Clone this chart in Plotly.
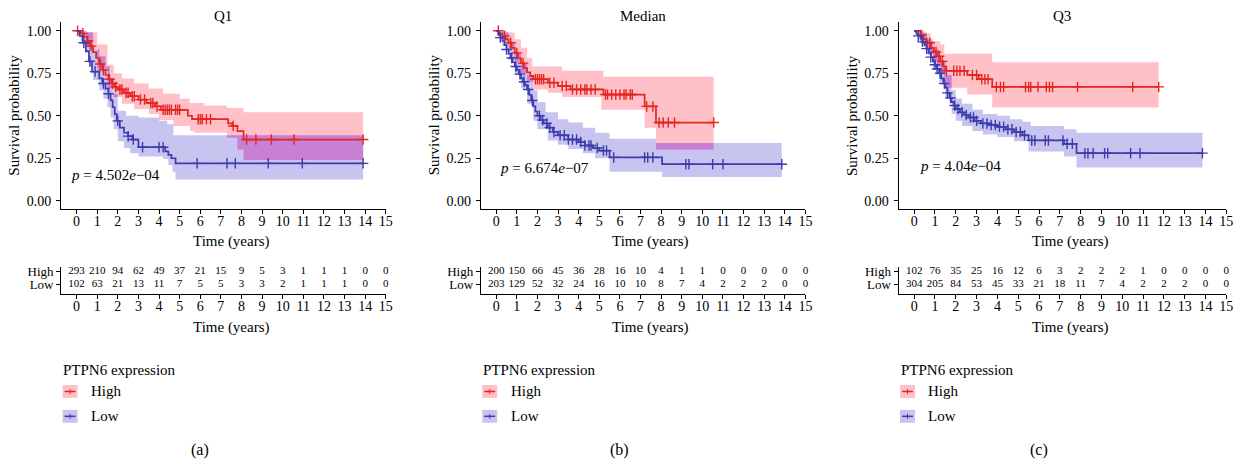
import numpy as np
import plotly.graph_objects as go

W, H = 1252, 466
FONT = "Liberation Serif"

# ---------------------------------------------------------------- data
years = list(range(16))
surv_ticks = [0, 0.25, 0.5, 0.75, 1.0]
surv_ticklabels = ["0.00", "0.25", "0.50", "0.75", "1.00"]
group_labels = ["High", "Low"]
panel_titles = ["Q1", "Median", "Q3"]
panel_tags = ["(a)", "(b)", "(c)"]
p_values = ["4.502e\u221204", "6.674e\u221207", "4.04e\u221204"]

# ---- Q1 cut-off
q1_high_time = [0, 0.2, 0.35, 0.5, 0.65, 0.8, 0.95, 1.1, 1.25, 1.4, 1.55, 1.7, 1.85, 2.0, 2.3, 2.6,
                3.0, 3.4, 3.8, 4.1, 5.4, 5.6, 7.35, 7.55, 7.8, 8.1]
q1_high_surv = [1.0, 0.985, 0.965, 0.94, 0.91, 0.875, 0.84, 0.805, 0.77, 0.74, 0.715, 0.69, 0.67, 0.655,
                0.635, 0.615, 0.595, 0.575, 0.555, 0.535, 0.50, 0.48, 0.455, 0.44, 0.41, 0.36]
q1_high_end = 13.9
q1_high_up_time = [0, 0.5, 1.0, 1.5, 1.8, 2.2, 2.8, 3.5, 4.2, 5.0, 5.5, 6.2, 7.3, 8.1]
q1_high_up = [1.0, 0.99, 0.92, 0.80, 0.75, 0.72, 0.69, 0.66, 0.63, 0.60, 0.575, 0.56, 0.545, 0.52]
q1_high_lo_time = [0, 0.3, 0.6, 1.0, 1.5, 1.8, 2.2, 2.8, 3.5, 4.0, 4.7, 5.5, 5.7, 7.3, 7.8, 8.1]
q1_high_lo = [1.0, 0.96, 0.89, 0.78, 0.66, 0.61, 0.57, 0.54, 0.51, 0.475, 0.44, 0.41, 0.40, 0.37, 0.30, 0.24]
q1_high_censor = [0.05, 0.3, 0.55, 0.7, 1.15, 1.3, 1.6, 1.75, 1.9, 2.1, 2.2, 2.4, 2.5, 2.7, 2.8, 3.1,
                  3.3, 3.6, 3.7, 3.9, 4.2, 4.3, 4.4, 4.5, 4.6, 4.8, 4.9, 5.0, 5.9, 6.0, 6.1, 6.3, 6.5,
                  7.6, 8.25, 8.7, 9.45, 10.55, 13.9]

q1_low_time = [0, 0.15, 0.3, 0.45, 0.6, 0.75, 1.1, 1.25, 1.4, 1.55, 1.65, 1.75, 1.85, 1.95, 2.1, 2.3,
               2.5, 2.7, 3.0, 4.3, 4.45, 4.6, 4.8]
q1_low_surv = [1.0, 0.97, 0.93, 0.88, 0.82, 0.76, 0.72, 0.69, 0.66, 0.63, 0.59, 0.55, 0.51, 0.47, 0.43,
               0.40, 0.38, 0.36, 0.315, 0.29, 0.27, 0.25, 0.22]
q1_low_end = 13.9
q1_low_up_time = [0, 0.4, 0.8, 1.1, 1.4, 1.6, 1.8, 2.0, 2.4, 3.0, 4.0, 4.4, 4.7]
q1_low_up = [1.0, 0.99, 0.89, 0.85, 0.79, 0.72, 0.63, 0.53, 0.50, 0.49, 0.47, 0.45, 0.385]
q1_low_lo_time = [0, 0.2, 0.4, 0.6, 0.8, 1.1, 1.3, 1.5, 1.65, 1.8, 2.0, 2.3, 2.6, 3.0, 4.2, 4.45, 4.65, 4.8]
q1_low_lo = [1.0, 0.94, 0.87, 0.79, 0.71, 0.65, 0.60, 0.55, 0.49, 0.42, 0.35, 0.31, 0.28, 0.26, 0.245,
             0.21, 0.17, 0.125]
q1_low_censor = [0.35, 0.65, 0.9, 1.3, 1.55, 2.0, 2.5, 2.75, 3.2, 4.0, 4.2, 5.85, 7.3, 7.7, 9.3, 10.95, 13.9]

q1_risk_high = [293, 210, 94, 62, 49, 37, 21, 15, 9, 5, 3, 1, 1, 1, 0, 0]
q1_risk_low = [102, 63, 21, 13, 11, 7, 5, 5, 3, 3, 2, 1, 1, 1, 0, 0]

# ---- median cut-off
med_high_time = [0, 0.15, 0.3, 0.45, 0.6, 0.75, 0.9, 1.05, 1.2, 1.35, 1.5, 1.65, 1.8, 2.5, 3.0, 3.6,
                 5.2, 7.2, 7.75]
med_high_surv = [1.0, 0.985, 0.97, 0.95, 0.93, 0.90, 0.87, 0.84, 0.81, 0.78, 0.755, 0.735, 0.715, 0.695,
                 0.675, 0.655, 0.625, 0.555, 0.46]
med_high_end = 10.55
med_high_up_time = [0, 0.5, 0.9, 1.2, 1.5, 1.75, 3.2, 5.2]
med_high_up = [1.0, 0.99, 0.95, 0.90, 0.84, 0.79, 0.765, 0.73]
med_high_lo_time = [0, 0.3, 0.6, 0.9, 1.2, 1.5, 1.8, 2.5, 3.2, 5.1, 7.2, 7.75]
med_high_lo = [1.0, 0.95, 0.89, 0.82, 0.75, 0.70, 0.655, 0.635, 0.61, 0.535, 0.43, 0.30]
med_high_censor = [0.1, 0.4, 0.7, 1.0, 1.3, 1.9, 2.0, 2.1, 2.2, 2.3, 2.6, 2.8, 3.2, 3.4, 3.7, 3.9, 4.1,
                   4.3, 4.4, 4.6, 4.8, 5.3, 5.4, 5.6, 5.8, 6.0, 6.2, 6.3, 6.5, 6.6, 7.3, 7.6, 7.9, 8.1,
                   8.35, 8.65, 10.55]

med_low_time = [0, 0.1, 0.2, 0.3, 0.4, 0.5, 0.6, 0.7, 0.8, 0.9, 1.0, 1.1, 1.2, 1.3, 1.4, 1.5, 1.6, 1.7,
                1.8, 1.9, 2.0, 2.15, 2.3, 2.5, 2.75, 3.0, 3.5, 4.0, 4.3, 4.7, 5.0, 5.5, 8.05]
med_low_surv = [1.0, 0.98, 0.96, 0.94, 0.915, 0.89, 0.865, 0.84, 0.815, 0.79, 0.77, 0.745, 0.72, 0.70,
                0.68, 0.655, 0.625, 0.59, 0.555, 0.525, 0.50, 0.475, 0.455, 0.43, 0.405, 0.385, 0.36,
                0.345, 0.325, 0.31, 0.295, 0.255, 0.215]
med_low_end = 13.85
med_low_up_time = [0, 0.3, 0.6, 0.9, 1.2, 1.5, 1.8, 2.0, 2.4, 3.0, 3.5, 4.2, 4.8, 5.5, 7.75]
med_low_up = [1.0, 0.99, 0.93, 0.87, 0.81, 0.74, 0.65, 0.58, 0.52, 0.48, 0.46, 0.43, 0.40, 0.365, 0.34]
med_low_lo_time = [0, 0.3, 0.6, 0.9, 1.2, 1.5, 1.8, 2.0, 2.5, 3.0, 3.5, 4.2, 4.8, 5.5, 8.05]
med_low_lo = [1.0, 0.91, 0.83, 0.74, 0.66, 0.57, 0.47, 0.42, 0.355, 0.33, 0.305, 0.28, 0.25, 0.17, 0.14]
med_low_censor = [0.2, 0.5, 0.75, 0.95, 1.15, 1.35, 1.55, 1.75, 2.1, 2.25, 2.45, 2.6, 2.8, 3.1, 3.3,
                  3.5, 3.7, 3.9, 4.1, 4.3, 4.5, 4.6, 4.9, 5.2, 5.35, 5.7, 7.2, 7.35, 7.6, 9.2, 9.35,
                  10.5, 11.0, 13.85]

med_risk_high = [200, 150, 66, 45, 36, 28, 16, 10, 4, 1, 1, 0, 0, 0, 0, 0]
med_risk_low = [203, 129, 52, 32, 24, 16, 10, 10, 8, 7, 4, 2, 2, 2, 0, 0]

# ---- Q3 cut-off
q3_high_time = [0, 0.3, 0.45, 0.6, 0.8, 0.95, 1.1, 1.25, 1.4, 1.5, 2.55, 3.1, 3.75]
q3_high_surv = [1.0, 0.975, 0.95, 0.93, 0.90, 0.875, 0.85, 0.82, 0.79, 0.765, 0.74, 0.715, 0.67]
q3_high_end = 11.75
q3_high_up_time = [0, 0.5, 0.8, 1.25, 1.45, 3.75]
q3_high_up = [1.0, 0.985, 0.94, 0.92, 0.865, 0.815]
q3_high_lo_time = [0, 0.3, 0.5, 0.7, 0.9, 1.1, 1.3, 1.45, 2.55, 3.75]
q3_high_lo = [1.0, 0.94, 0.90, 0.86, 0.82, 0.79, 0.745, 0.665, 0.625, 0.548]
q3_high_censor = [0.35, 0.6, 0.75, 1.05, 1.2, 1.35, 1.55, 1.9, 2.05, 2.2, 2.4, 2.8, 3.0, 3.25, 3.4,
                  3.55, 3.95, 4.15, 4.3, 5.35, 5.5, 5.6, 5.95, 6.35, 6.5, 6.65, 7.85, 10.5, 11.75]

q3_low_time = [0, 0.1, 0.2, 0.3, 0.4, 0.5, 0.6, 0.7, 0.8, 0.9, 1.0, 1.1, 1.2, 1.3, 1.4, 1.5, 1.6, 1.7,
               1.8, 1.9, 2.0, 2.2, 2.4, 2.6, 2.9, 3.2, 3.6, 4.0, 4.4, 4.8, 5.2, 5.5, 7.2, 7.8]
q3_low_surv = [1.0, 0.985, 0.97, 0.955, 0.935, 0.915, 0.895, 0.87, 0.845, 0.82, 0.80, 0.775, 0.75, 0.72,
               0.69, 0.665, 0.635, 0.605, 0.58, 0.56, 0.54, 0.52, 0.505, 0.49, 0.47, 0.455, 0.445,
               0.435, 0.42, 0.405, 0.385, 0.355, 0.335, 0.28]
q3_low_end = 13.85
q3_low_up_time = [0, 0.3, 0.6, 0.9, 1.2, 1.5, 1.8, 2.0, 2.3, 2.8, 3.3, 4.0, 4.6, 5.2, 5.6, 7.2, 7.8]
q3_low_up = [1.0, 0.99, 0.95, 0.89, 0.82, 0.74, 0.65, 0.60, 0.57, 0.535, 0.51, 0.50, 0.48, 0.465, 0.44,
             0.42, 0.40]
q3_low_lo_time = [0, 0.3, 0.6, 0.9, 1.2, 1.5, 1.8, 2.0, 2.3, 2.8, 3.3, 4.0, 4.8, 5.5, 7.2, 7.8]
q3_low_lo = [1.0, 0.93, 0.86, 0.78, 0.70, 0.61, 0.51, 0.47, 0.44, 0.41, 0.39, 0.375, 0.35, 0.29, 0.26,
             0.195]
q3_low_censor = [0.2, 0.4, 0.6, 0.8, 1.0, 1.1, 1.25, 1.45, 1.6, 1.75, 1.95, 2.1, 2.3, 2.5, 2.7, 2.85,
                 3.0, 3.3, 3.5, 3.7, 3.9, 4.1, 4.3, 4.5, 4.7, 4.9, 5.1, 5.3, 5.65, 5.8, 6.3, 6.45,
                 7.15, 7.35, 7.6, 8.2, 8.35, 8.6, 9.15, 9.3, 10.4, 10.85, 13.85]

q3_risk_high = [102, 76, 35, 25, 16, 12, 6, 3, 2, 2, 2, 1, 0, 0, 0, 0]
q3_risk_low = [304, 205, 84, 53, 45, 33, 21, 18, 11, 7, 4, 2, 2, 2, 0, 0]

# ---------------------------------------------------------------- styling
RED, BLUE = "rgb(228,38,32)", "rgb(60,60,172)"
PINK, LAVENDER, PURPLE = "rgb(255,192,200)", "rgb(200,196,240)", "rgb(200,128,212)"

panels = [
    dict(high=(q1_high_time, q1_high_surv, q1_high_end, q1_high_up_time, q1_high_up,
               q1_high_lo_time, q1_high_lo, q1_high_censor),
         low=(q1_low_time, q1_low_surv, q1_low_end, q1_low_up_time, q1_low_up,
              q1_low_lo_time, q1_low_lo, q1_low_censor),
         risk=(q1_risk_high, q1_risk_low), zero=77.0, ppy=20.73, pxy=(-0.39, 0.15)),
    dict(high=(med_high_time, med_high_surv, med_high_end, med_high_up_time, med_high_up,
               med_high_lo_time, med_high_lo, med_high_censor),
         low=(med_low_time, med_low_surv, med_low_end, med_low_up_time, med_low_up,
              med_low_lo_time, med_low_lo, med_low_censor),
         risk=(med_risk_high, med_risk_low), zero=499.0, ppy=20.73, pxy=(0.1, 0.195)),
    dict(high=(q3_high_time, q3_high_surv, q3_high_end, q3_high_up_time, q3_high_up,
               q3_high_lo_time, q3_high_lo, q3_high_censor),
         low=(q3_low_time, q3_low_surv, q3_low_end, q3_low_up_time, q3_low_up,
              q3_low_lo_time, q3_low_lo, q3_low_censor),
         risk=(q3_risk_high, q3_risk_low), zero=919.3, ppy=20.93, pxy=(0.19, 0.205)),
]

X_MIN, X_MAX = -0.75, 15.0


def px(x):
    return x / W


def py(y):
    return 1 - y / H


def step_at(times, values, x):
    idx = np.searchsorted(np.asarray(times), np.asarray(x), side="right") - 1
    return np.asarray(values)[idx]


def band(up_t, up, lo_t, lo, end):
    grid = np.unique(np.concatenate([up_t, lo_t]))
    grid = np.append(grid[grid < end], end)
    return grid, step_at(lo_t, lo, grid), step_at(up_t, up, grid)


def note(text, x, y, xref="paper", yref="paper", xanchor="center", size=15, **kw):
    return dict(text=text, x=x, y=y, xref=xref, yref=yref, xanchor=xanchor, yanchor="middle",
                showarrow=False, font=dict(family=FONT, size=size, color="black"), **kw)


fig = go.Figure()
layout = {}
annotations = []
shapes = []
tick_font = dict(family=FONT, size=14, color="black")

for i, p in enumerate(panels):
    n = i + 1
    r = i + 4
    xm, ym = f"x{n}", f"y{n}"
    xr, yr = f"x{r}", f"y{r}"
    left = p["zero"] + X_MIN * p["ppy"]
    right = p["zero"] + X_MAX * p["ppy"]
    dom = [px(left), px(right)]

    ends = {}
    for key, fill in (("high", PINK), ("low", LAVENDER)):
        t, s, end, ut, u, lt, l, cens = p[key]
        g, blo, bup = band(ut, u, lt, l, end)
        ends[key] = end
        fig.add_trace(go.Scatter(x=g, y=blo, mode="lines", line=dict(width=0, shape="hv"),
                                 xaxis=xm, yaxis=ym, showlegend=False, hoverinfo="skip"))
        fig.add_trace(go.Scatter(x=g, y=bup, mode="lines", line=dict(width=0, shape="hv"),
                                 fill="tonexty", fillcolor=fill, xaxis=xm, yaxis=ym,
                                 showlegend=False, hoverinfo="skip"))

    # where the two confidence bands overlap
    end_common = min(ends["high"], ends["low"])
    hi_p, lo_p = p["high"], p["low"]
    grid = np.unique(np.concatenate([hi_p[3], hi_p[5], lo_p[3], lo_p[5]]))
    grid = np.append(grid[grid < end_common], end_common)
    ov_lo = np.maximum(step_at(hi_p[5], hi_p[6], grid), step_at(lo_p[5], lo_p[6], grid))
    ov_up = np.minimum(step_at(hi_p[3], hi_p[4], grid), step_at(lo_p[3], lo_p[4], grid))
    ov_up = np.maximum(ov_up, ov_lo)
    fig.add_trace(go.Scatter(x=grid, y=ov_lo, mode="lines", line=dict(width=0, shape="hv"),
                             xaxis=xm, yaxis=ym, showlegend=False, hoverinfo="skip"))
    fig.add_trace(go.Scatter(x=grid, y=ov_up, mode="lines", line=dict(width=0, shape="hv"),
                             fill="tonexty", fillcolor=PURPLE, xaxis=xm, yaxis=ym,
                             showlegend=False, hoverinfo="skip"))

    for key, col in (("high", RED), ("low", BLUE)):
        t, s, end, ut, u, lt, l, cens = p[key]
        xs = list(t) + [end]
        ys = list(s) + [s[-1]]
        fig.add_trace(go.Scatter(x=xs, y=ys, mode="lines", line=dict(color=col, width=1.7, shape="hv"),
                                 xaxis=xm, yaxis=ym, showlegend=False, hoverinfo="skip"))
        fig.add_trace(go.Scatter(x=cens, y=step_at(t, s, cens), mode="markers",
                                 marker=dict(symbol="cross-thin", size=7.5,
                                             line=dict(color=col, width=1.4)),
                                 xaxis=xm, yaxis=ym, showlegend=False, hoverinfo="skip",
                                 cliponaxis=False))

    # risk table
    for row, counts in zip((2, 1), p["risk"]):
        fig.add_trace(go.Scatter(x=years, y=[row] * len(years), mode="text",
                                 text=[str(c) for c in counts],
                                 textfont=dict(family=FONT, size=11, color="black"),
                                 xaxis=xr, yaxis=yr, showlegend=False, hoverinfo="skip",
                                 cliponaxis=False))

    axis_common = dict(showline=True, linecolor="black", linewidth=1, ticks="outside",
                       ticklen=4, tickwidth=1, tickcolor="black", showgrid=False,
                       zeroline=False, tickfont=tick_font, fixedrange=True)
    layout[f"xaxis{n if n > 1 else ''}"] = dict(axis_common, domain=dom, range=[X_MIN, X_MAX],
                                                  anchor=ym, tickvals=years, ticklabelstandoff=-5)
    layout[f"yaxis{n if n > 1 else ''}"] = dict(axis_common, domain=[py(207.55), py(19.45)],
                                                  range=[-0.05, 1.05], anchor=xm,
                                                  tickvals=surv_ticks, ticktext=surv_ticklabels,
                                                  ticklabelstandoff=2)
    layout[f"xaxis{r}"] = dict(axis_common, domain=dom, range=[X_MIN, X_MAX], anchor=yr,
                               tickvals=years, ticklabelstandoff=-5)
    layout[f"yaxis{r}"] = dict(axis_common, domain=[py(293), py(266)], range=[0.25, 2.33],
                               anchor=xr, tickvals=[2, 1], ticktext=group_labels,
                               tickfont=dict(family=FONT, size=13, color="black"))

    # texts
    annotations.append(note(panel_titles[i], (dom[0] + dom[1]) / 2, py(13)))
    annotations.append(note("Survival probability", px(left - 47), py(113), textangle=-90))
    for ty in (240, 327):
        annotations.append(note("Time (years)", 7.5, py(ty), xref=xm))
    annotations.append(note(f"<i>p</i> = {p_values[i].replace('e', '<i>e</i>')}",
                            p["pxy"][0], p["pxy"][1], xref=xm, yref=ym, xanchor="left"))
    annotations.append(note(panel_tags[i], 6.0, py(450), xref=xr, size=16))

    # legend
    lx = left
    annotations.append(note("PTPN6 expression", px(lx), py(369), xanchor="left"))
    for label, fill, col, cy in (("High", PINK, RED, 391), ("Low", LAVENDER, BLUE, 416)):
        shapes.append(dict(type="rect", xref="paper", yref="paper", x0=px(lx + 1.5), x1=px(lx + 16.5),
                           y0=py(cy + 6.5), y1=py(cy - 6.5), fillcolor=fill, line=dict(width=0)))
        shapes.append(dict(type="line", xref="paper", yref="paper", x0=px(lx + 3.5), x1=px(lx + 14.5),
                           y0=py(cy), y1=py(cy), line=dict(color=col, width=1.5)))
        shapes.append(dict(type="line", xref="paper", yref="paper", x0=px(lx + 9), x1=px(lx + 9),
                           y0=py(cy - 2.5), y1=py(cy + 2.5), line=dict(color=col, width=1)))
        annotations.append(note(label, px(lx + 28), py(cy), xanchor="left"))

fig.update_layout(
    width=W, height=H, autosize=False,
    margin=dict(l=0, r=0, t=0, b=0),
    paper_bgcolor="white", plot_bgcolor="white",
    font=dict(family=FONT, color="black"),
    annotations=annotations, shapes=shapes,
    **layout,
)

fig.write_html("out.html")
